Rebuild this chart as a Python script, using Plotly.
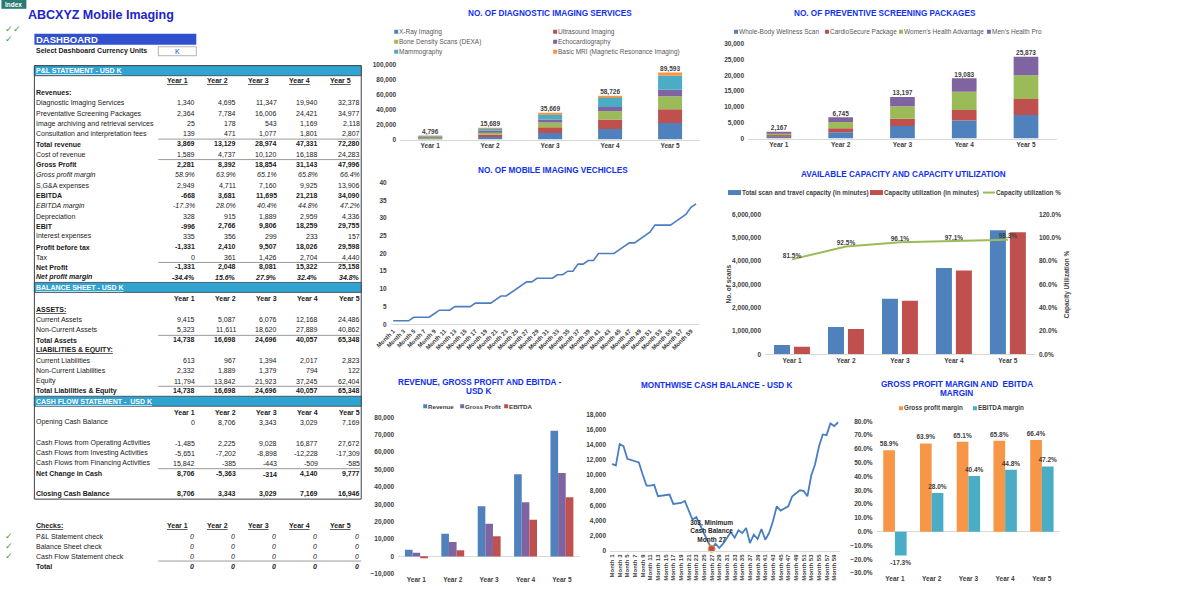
import plotly.graph_objects as go

# ======================= DATA =======================
years = ["Year 1", "Year 2", "Year 3", "Year 4", "Year 5"]

# P&L statement (USD K)
diag_imaging_rev = [1340, 4695, 11347, 19940, 32378]
prev_screening_rev = [2364, 7784, 16006, 24421, 34977]
archiving_rev = [25, 178, 543, 1169, 2118]
consultation_rev = [139, 471, 1077, 1801, 2807]
total_revenue = [3869, 13129, 28974, 47331, 72280]
cost_of_revenue = [1589, 4737, 10120, 16188, 24283]
gross_profit = [2281, 8392, 18854, 31143, 47996]
gross_margin_pct = [58.9, 63.9, 65.1, 65.8, 66.4]
sga_expenses = [2949, 4711, 7160, 9925, 13906]
ebitda = [-668, 3681, 11695, 21218, 34090]
ebitda_margin_pct = [-17.3, 28.0, 40.4, 44.8, 47.2]
depreciation = [328, 915, 1889, 2959, 4336]
ebit = [-996, 2766, 9806, 18259, 29755]
interest_expenses = [335, 356, 299, 233, 157]
profit_before_tax = [-1331, 2410, 9507, 18026, 29598]
tax = [0, 361, 1426, 2704, 4440]
net_profit = [-1331, 2048, 8081, 15322, 25158]
net_margin_pct = [-34.4, 15.6, 27.9, 32.4, 34.8]

# Balance sheet (USD K)
current_assets = [9415, 5087, 6076, 12168, 24486]
noncurrent_assets = [5323, 11611, 18620, 27889, 40862]
total_assets = [14738, 16698, 24696, 40057, 65348]
current_liabilities = [613, 967, 1394, 2017, 2823]
noncurrent_liabilities = [2332, 1889, 1379, 794, 122]
equity = [11794, 13842, 21923, 37245, 62404]
total_liab_equity = [14738, 16698, 24696, 40057, 65348]

# Cash flow statement (USD K)
opening_cash = [0, 8706, 3343, 3029, 7169]
cf_operating = [-1485, 2225, 9028, 16877, 27672]
cf_investing = [-5651, -7202, -8898, -12228, -17309]
cf_financing = [15842, -385, -443, -509, -585]
net_change_cash = [8706, -5363, -314, 4140, 9777]
closing_cash = [8706, 3343, 3029, 7169, 16946]

# Checks
pl_check = [0, 0, 0, 0, 0]
bs_check = [0, 0, 0, 0, 0]
cf_check = [0, 0, 0, 0, 0]
total_check = [0, 0, 0, 0, 0]

# No. of diagnostic imaging services
xray_imaging = [1200, 3600, 8900, 14200, 22200]
ultrasound_imaging = [1100, 3100, 7500, 12500, 18200]
bone_density_dexa = [1000, 3100, 6300, 11100, 17400]
echocardiography = [500, 2200, 4000, 5700, 8900]
mammography = [800, 3100, 7100, 13400, 18600]
basic_mri = [196, 589, 1869, 1826, 4293]

# No. of preventive screening packages
whole_body_scan = [650, 2000, 4000, 5700, 7500]
cardiosecure_pkg = [400, 1250, 2300, 3350, 5000]
womens_health = [650, 2000, 3900, 5800, 7500]
mens_health = [467, 1495, 2997, 4233, 5873]

# Capacity
capacity_minutes = [400000, 1170000, 2390000, 3700000, 5330000]
utilized_minutes = [326000, 1082000, 2297000, 3593000, 5239000]
utilization_pct = [81.5, 92.5, 96.1, 97.1, 98.3]

# Monthly series
months = ["Month %d" % i for i in range(1, 61)]
vehicles = [1, 1, 1, 1, 2, 2, 2, 2, 3, 4, 4, 4,
            5, 5, 5, 5, 6, 6, 6, 6, 7, 8, 8, 9,
            10, 11, 12, 12, 13, 13, 13, 13, 14, 14, 15, 15,
            17, 17, 18, 18, 20, 20, 20, 20, 21, 22, 23, 23,
            24, 25, 26, 28, 28, 28, 28, 29, 30, 31, 33, 34]
cash_balance = [11470, 11250, 14070, 13800, 12130, 11960, 11780, 11650, 10070, 8620, 8620, 8706,
                7210, 7300, 7340, 7430, 6200, 6290, 6330, 6590, 5450, 4130, 4480, 3343,
                2370, 1270, 303, 970, 400, 970, 1710, 2500, 1760, 2730, 2370, 3029,
                1050, 2150, 1580, 2900, 1490, 2370, 3910, 5890, 5320, 5580, 5890, 7169,
                7560, 8000, 7910, 7210, 9930, 11430, 13720, 15340, 15250, 16790, 16440, 16946]

# ======================= STYLE / LAYOUT =======================
W, H = 1200, 600
FONT = "Liberation Sans, Arial, sans-serif"
TICK = "#404040"
AXLINE = "#D9D9D9"
TITLE_BLUE = "#1030F0"
BLUE, RED, GREEN, PURPLE, AQUA, ORANGE = "#4F81BD", "#C0504D", "#9BBB59", "#8064A2", "#4BACC6", "#F79646"
LINE_BLUE = "#4A7EC2"

# screen-position calibration (target pixel -> page pixel)
OX, OY, SC = 13.6, 4.2, 0.988


def px(x):
    return ((x - OX) / SC) / W


def py(y):
    return 1 - ((y - OY) / SC) / H


ann = []
shapes = []


def txt(x, y, s, size=7, color="#1a1a1a", anchor="left", bold=False, italic=False, underline=False,
        angle=0, vanchor="middle"):
    if underline:
        s = "<u>%s</u>" % s
    if italic:
        s = "<i>%s</i>" % s
    if bold:
        s = "<b>%s</b>" % s
    ann.append(dict(x=px(x), y=py(y), xref="paper", yref="paper", text=s, showarrow=False,
                    xanchor=anchor, yanchor=vanchor, textangle=angle, borderpad=0, borderwidth=0,
                    font=dict(family=FONT, size=size, color=color)))


def rect(x0, y0, x1, y1, fill=None, line=None, lw=1):
    shapes.append(dict(type="rect", xref="paper", yref="paper", x0=px(x0), x1=px(x1), y0=py(y1), y1=py(y0),
                       fillcolor=fill if fill else "rgba(0,0,0,0)",
                       line=dict(color=line if line else "rgba(0,0,0,0)", width=lw if line else 0)))


def hline(x0, x1, y, color="#808080", w=0.8):
    shapes.append(dict(type="line", xref="paper", yref="paper", x0=px(x0), x1=px(x1), y0=py(y), y1=py(y),
                       line=dict(color=color, width=w)))


def fmt_num(v):
    return "{:,}".format(v)


def fmt_pct(v):
    return "%.1f%%" % v


# ---------- header area ----------
rect(0, 0, 25, 9, fill="#2A7B73")
txt(12.5, 4.5, "Index", size=6.5, color="white", anchor="center", bold=True)
txt(27, 15, "ABCXYZ Mobile Imaging", size=12.5, color="#2323C8", bold=True)
txt(4, 29, "✓✓", size=9, color="#3A9A3A")
txt(4, 39, "✓", size=9, color="#3A9A3A")
rect(33, 34, 195, 45, fill="#3050D0")
txt(35, 39.5, "DASHBOARD", size=9.5, color="white", bold=True)
txt(35, 51.5, "Select Dashboard Currency Units", size=7, bold=True)
rect(157, 47, 195, 56, fill="white", line="#A0A0A0", lw=0.8)
txt(176, 51.5, "K", size=7, color="#2040FF", anchor="center")

# ---------- financial table ----------
COL_R = [194, 235, 276, 317, 359]
COL_C = [176, 216, 257, 298, 339]
HDR_BLUE = "#2FA3D2"

rect(33, 66, 360, 500, line="#404040", lw=1)
rect(33, 66, 360, 76, fill=HDR_BLUE, line="#404040", lw=0.8)
txt(35, 71, "P&amp;L STATEMENT - USD K", size=7, color="white", bold=True, underline=True)
for i, yname in enumerate(years):
    txt(COL_C[i], 81, yname, size=7, anchor="center", bold=True, underline=True)


def table_row(label, vals, y, style="n", fmt=fmt_num):
    b = "b" in style
    it = "i" in style
    txt(35, y, label, size=7, bold=b, italic=it)
    if vals is not None:
        for i, v in enumerate(vals):
            txt(COL_R[i], y, fmt(v), size=7, anchor="right", bold=b, italic=it)


pl_rows = [
    ("Revenues:", None, 93, "b", fmt_num),
    ("Diagnostic Imaging Services", diag_imaging_rev, 103, "n", fmt_num),
    ("Preventative Screening Packages", prev_screening_rev, 114, "n", fmt_num),
    ("Image archiving and retrieval services", archiving_rev, 124, "n", fmt_num),
    ("Consultation and interpretation fees", consultation_rev, 134, "n", fmt_num),
    ("Total revenue", total_revenue, 144.5, "b", fmt_num),
    ("Cost of revenue", cost_of_revenue, 155, "n", fmt_num),
    ("Gross Profit", gross_profit, 165, "b", fmt_num),
    ("Gross profit margin", gross_margin_pct, 175, "i", fmt_pct),
    ("S,G&amp;A expenses", sga_expenses, 186, "n", fmt_num),
    ("EBITDA", ebitda, 196, "b", fmt_num),
    ("EBITDA margin", ebitda_margin_pct, 206, "i", fmt_pct),
    ("Depreciation", depreciation, 217, "n", fmt_num),
    ("EBIT", ebit, 227, "b", fmt_num),
    ("Interest expenses", interest_expenses, 237, "n", fmt_num),
    ("Profit before tax", profit_before_tax, 248, "b", fmt_num),
    ("Tax", tax, 258, "n", fmt_num),
    ("Net Profit", net_profit, 268, "b", fmt_num),
    ("Net profit margin", net_margin_pct, 278, "bi", fmt_pct),
]
for r in pl_rows:
    table_row(*r)
for yy in (139.5, 160, 263):
    hline(157, 359, yy)

# balance sheet
rect(33, 283, 360, 293, fill=HDR_BLUE, line="#404040", lw=0.8)
txt(35, 288, "BALANCE SHEET - USD K", size=7, color="white", bold=True, underline=True)
for i, yname in enumerate(years):
    txt(COL_R[i], 299, yname, size=7, anchor="right", bold=True)
txt(35, 310, "ASSETS:", size=7, bold=True, underline=True)
txt(35, 351, "LIABILITIES &amp; EQUITY:", size=7, bold=True, underline=True)
bs_rows = [
    ("Current Assets", current_assets, 320, "n", fmt_num),
    ("Non-Current Assets", noncurrent_assets, 330, "n", fmt_num),
    ("Total Assets", total_assets, 341, "b", fmt_num),
    ("Current Liabilities", current_liabilities, 361, "n", fmt_num),
    ("Non-Current Liabilities", noncurrent_liabilities, 371, "n", fmt_num),
    ("Equity", equity, 382, "n", fmt_num),
    ("Total Liabilities &amp; Equity", total_liab_equity, 392, "b", fmt_num),
]
for r in bs_rows:
    table_row(*r)
for yy in (336, 387):
    hline(157, 359, yy)

# cash flow
rect(33, 397, 360, 407, fill=HDR_BLUE, line="#404040", lw=0.8)
txt(35, 402, "CASH FLOW STATEMENT -  USD K", size=7, color="white", bold=True, underline=True)
for i, yname in enumerate(years):
    txt(COL_R[i], 413, yname, size=7, anchor="right", bold=True)
cf_rows = [
    ("Opening Cash Balance", opening_cash, 423, "n", fmt_num),
    ("Cash Flows from Operating Activities", cf_operating, 444, "n", fmt_num),
    ("Cash Flows from Investing Activities", cf_investing, 454, "n", fmt_num),
    ("Cash Flows from Financing Activities", cf_financing, 464, "n", fmt_num),
    ("Net Change in Cash", net_change_cash, 475, "b", fmt_num),
    ("Closing Cash Balance", closing_cash, 495, "b", fmt_num),
]
for r in cf_rows:
    table_row(*r)
hline(157, 359, 469.5)

# checks
txt(35, 526, "Checks:", size=7, bold=True, underline=True)
for i, yname in enumerate(years):
    txt(COL_C[i], 526, yname, size=7, anchor="center", bold=True, underline=True)
chk_rows = [
    ("P&amp;L Statement check", pl_check, 537, "n"),
    ("Balance Sheet check", bs_check, 547, "n"),
    ("Cash Flow Statement check", cf_check, 557, "n"),
    ("Total", total_check, 567, "b"),
]
for label, vals, yy, st in chk_rows:
    txt(35, yy, label, size=7, bold=(st == "b"))
    for i, v in enumerate(vals):
        txt(COL_R[i] - 1, yy, fmt_num(v), size=7, anchor="right", italic=True, bold=(st == "b"))
hline(157, 360, 562)
for yy in (537, 547, 557):
    txt(4, yy, "✓", size=9, color="#3A9A3A")


# ---------- legend helper ----------
def leg(x, y, label, color, kind="sq", bold=False, size=6.5):
    if kind == "sq":
        rect(x, y - 2, x + 4, y + 2, fill=color)
        tx = x + 5
    elif kind == "rect":
        rect(x, y - 2.5, x + 13, y + 2.5, fill=color)
        tx = x + 14
    else:
        shapes.append(dict(type="line", xref="paper", yref="paper", x0=px(x), x1=px(x + 12), y0=py(y), y1=py(y),
                           line=dict(color=color, width=2)))
        tx = x + 13
    txt(tx, y, label, size=size, color=TICK if bold else "#595959", bold=bold)


TF = dict(family=FONT, size=6.5, color=TICK, weight="bold")
LBL = dict(family=FONT, size=6.5, color=TICK, weight="bold")


def xax(dom, anchor, line=True, **kw):
    d = dict(domain=[px(dom[0]), px(dom[1])], anchor=anchor, showgrid=False, zeroline=False,
             showline=line, linecolor=AXLINE, linewidth=1, ticks="", fixedrange=True, tickfont=TF)
    d.update(kw)
    return d


def yax(dom, anchor, rng, dtick, zl=False, **kw):
    d = dict(domain=[py(dom[1]), py(dom[0])], anchor=anchor, range=rng, dtick=dtick, showgrid=False,
             zeroline=zl, zerolinecolor=AXLINE, zerolinewidth=1, showline=False, ticks="",
             tickformat=",", fixedrange=True, tickfont=TF, ticklabelstandoff=3)
    d.update(kw)
    return d


fig = go.Figure()

# ---------- Chart A: diagnostic imaging services (stacked) ----------
diag_series = [("X-Ray Imaging", xray_imaging, BLUE), ("Ultrasound Imaging", ultrasound_imaging, RED),
               ("Bone Density Scans (DEXA)", bone_density_dexa, GREEN), ("Echocardiography", echocardiography, PURPLE),
               ("Mammography", mammography, AQUA), ("Basic MRI (Magnetic Resonance Imaging)", basic_mri, ORANGE)]
cum = [0] * len(years)
for name, vals, col in diag_series:
    fig.add_trace(go.Bar(x=years, y=vals, base=list(cum), width=0.4, name=name, marker=dict(color=col, line=dict(width=0)),
                         xaxis="x", yaxis="y"))
    cum = [c + v for c, v in zip(cum, vals)]
fig.add_trace(go.Scatter(x=years, y=cum, mode="text", text=[fmt_num(v) for v in cum], textposition="top center",
                         textfont=LBL, xaxis="x", yaxis="y", cliponaxis=False))
txt(549, 14, "NO. OF DIAGNOSTIC IMAGING SERVICES", size=8.2, color=TITLE_BLUE, anchor="center", bold=True)
leg_pos_a = [(393, 32), (552, 32), (393, 42), (552, 42), (393, 52), (552, 52)]
for (name, vals, col), (lx, ly) in zip(diag_series, leg_pos_a):
    leg(lx, ly, name, col)

# ---------- Chart B: preventive screening packages (stacked) ----------
prev_series = [("Whole-Body Wellness Scan", whole_body_scan, BLUE), ("CardioSecure Package", cardiosecure_pkg, RED),
               ("Women's Health Advantage", womens_health, GREEN), ("Men's Health Pro", mens_health, PURPLE)]
cum = [0] * len(years)
for name, vals, col in prev_series:
    fig.add_trace(go.Bar(x=years, y=vals, base=list(cum), width=0.4, name=name, marker=dict(color=col, line=dict(width=0)),
                         xaxis="x2", yaxis="y2"))
    cum = [c + v for c, v in zip(cum, vals)]
fig.add_trace(go.Scatter(x=years, y=cum, mode="text", text=[fmt_num(v) for v in cum], textposition="top center",
                         textfont=LBL, xaxis="x2", yaxis="y2", cliponaxis=False))
txt(884, 14, "NO. OF PREVENTIVE SCREENING PACKAGES", size=8.2, color=TITLE_BLUE, anchor="center", bold=True)
for (name, vals, col), lx in zip(prev_series, [733, 824, 898, 986]):
    leg(lx, 32, name, col)

# ---------- Chart C: vehicles ----------
fig.add_trace(go.Scatter(x=months, y=vehicles, mode="lines", line=dict(color=LINE_BLUE, width=1.6),
                         xaxis="x3", yaxis="y3"))
txt(552, 171, "NO. OF MOBILE IMAGING VECHICLES", size=8.2, color=TITLE_BLUE, anchor="center", bold=True)

# ---------- Chart D: capacity ----------
fig.add_trace(go.Bar(x=years, y=capacity_minutes, width=0.296, offset=-0.333, name="Total scan and travel capacity (in minutes)",
                     marker=dict(color=BLUE, line=dict(width=0)), xaxis="x4", yaxis="y4"))
fig.add_trace(go.Bar(x=years, y=utilized_minutes, width=0.296, offset=0.037, name="Capacity utilization (in minutes)",
                     marker=dict(color=RED, line=dict(width=0)), xaxis="x4", yaxis="y4"))
fig.add_trace(go.Scatter(x=years, y=utilization_pct, mode="lines+text", name="Capacity utilization %",
                         text=[fmt_pct(v) for v in utilization_pct], textposition="top center", textfont=LBL,
                         line=dict(color=GREEN, width=2), xaxis="x4", yaxis="y8", cliponaxis=False))
txt(903, 175, "AVAILABLE CAPACITY AND CAPACITY UTILIZATION", size=8.2, color=TITLE_BLUE, anchor="center", bold=True)
leg(727, 193, "Total scan and travel capacity (in minutes)", BLUE, kind="rect", bold=True, size=6.3)
leg(869, 193, "Capacity utilization (in minutes)", RED, kind="rect", bold=True, size=6.3)
leg(982, 193, "Capacity utilization %", GREEN, kind="line", bold=True, size=6.3)
txt(727, 285, "No. of scans", size=6.5, color=TICK, anchor="center", bold=True, angle=-90)
txt(1067, 285, "Capacity Utilization %", size=6.5, color=TICK, anchor="center", bold=True, angle=-90)

# ---------- Chart E: revenue, GP, EBITDA ----------
rev_series = [("Revenue", total_revenue, BLUE, -0.315), ("Gross Profit", gross_profit, PURPLE, -0.105),
              ("EBITDA", ebitda, RED, 0.105)]
for name, vals, col, off in rev_series:
    fig.add_trace(go.Bar(x=years, y=vals, width=0.21, offset=off, name=name,
                         marker=dict(color=col, line=dict(width=0)), xaxis="x5", yaxis="y5"))
txt(478, 383, "REVENUE, GROSS PROFIT AND EBITDA -", size=8.2, color=TITLE_BLUE, anchor="center", bold=True)
txt(478, 392.5, "USD K", size=8.2, color=TITLE_BLUE, anchor="center", bold=True)
for (name, vals, col, off), lx in zip(rev_series, [422, 459, 503]):
    leg(lx, 407, name, col, bold=True, size=6.2)

# ---------- Chart F: monthly cash ----------
fig.add_trace(go.Scatter(x=months, y=cash_balance, mode="lines", line=dict(color=LINE_BLUE, width=1.8),
                         xaxis="x6", yaxis="y6"))
min_i = cash_balance.index(min(cash_balance))
fig.add_trace(go.Scatter(x=[months[min_i]], y=[cash_balance[min_i]], mode="markers+text",
                         marker=dict(size=7, color=RED, line=dict(color="#E9A23B", width=1)),
                         text=["%s, Minimum<br>Cash Balance<br>%s" % (fmt_num(cash_balance[min_i]), months[min_i])],
                         textposition="top center", textfont=dict(family=FONT, size=6.5, color="#262626", weight="bold"),
                         xaxis="x6", yaxis="y6", cliponaxis=False))
txt(716, 386, "MONTHWISE CASH BALANCE - USD K", size=8.2, color=TITLE_BLUE, anchor="center", bold=True)

# ---------- Chart G: margins ----------
margin_series = [("Gross profit margin", gross_margin_pct, ORANGE, -0.318), ("EBITDA margin", ebitda_margin_pct, AQUA, 0.0)]
for name, vals, col, off in margin_series:
    fig.add_trace(go.Bar(x=years, y=vals, width=0.318, offset=off, name=name, text=[fmt_pct(v) for v in vals],
                         textposition="outside", constraintext="none", textfont=LBL, cliponaxis=False,
                         marker=dict(color=col, line=dict(width=0)), xaxis="x7", yaxis="y7"))
txt(956, 385, "GROSS PROFIT MARGIN AND  EBITDA", size=8.2, color=TITLE_BLUE, anchor="center", bold=True)
txt(956, 394.5, "MARGIN", size=8.2, color=TITLE_BLUE, anchor="center", bold=True)
for (name, vals, col, off), lx in zip(margin_series, [898, 972]):
    leg(lx, 409, name, col, bold=True, size=6.3)

month_ticks = months[::2]

fig.update_layout(
    width=W, height=H, margin=dict(l=0, r=0, t=0, b=0), autosize=False,
    paper_bgcolor="white", plot_bgcolor="white", showlegend=False, barmode="overlay",
    font=dict(family=FONT, size=7, color=TICK),
    xaxis=xax((399, 699), "y"),
    yaxis=yax((65, 140), "x", [0, 100000], 20000),
    xaxis2=xax((747, 1056), "y2"),
    yaxis2=yax((44, 139), "x2", [0, 30000], 5000),
    xaxis3=xax((389.4, 697.6), "y3", range=[-0.5, 59.5], tickangle=-45, tickmode="array",
               tickvals=month_ticks, ticktext=month_ticks, tickfont=dict(family=FONT, size=6, color=TICK, weight="bold")),
    yaxis3=yax((183, 325), "x3", [0, 40], 5),
    xaxis4=xax((764, 1034), "y4"),
    yaxis4=yax((215, 355), "x4", [0, 6000000], 1000000),
    yaxis8=dict(overlaying="y4", side="right", anchor="x4", range=[0, 120], dtick=20, showgrid=False,
                zeroline=False, showline=False, ticks="", tickformat=".1f", ticksuffix="%", tickfont=TF,
                fixedrange=True, ticklabelstandoff=3),
    xaxis5=xax((397, 579), "y5", line=False),
    yaxis5=yax((418, 575), "x5", [-10000, 80000], 10000, zl=True),
    xaxis6=xax((609, 839), "y6", range=[-0.5, 59.5], tickangle=-90, tickmode="array",
               tickvals=month_ticks, ticktext=month_ticks, tickfont=dict(family=FONT, size=6, color=TICK, weight="bold")),
    yaxis6=yax((415, 552), "x6", [0, 18000], 2000),
    xaxis7=xax((875.6, 1059.4), "y7", line=False),
    yaxis7=yax((422, 574), "x7", [-30, 80], 10, zl=True, tickformat=".1f", ticksuffix="%"),
    annotations=ann,
    shapes=shapes,
)

fig.write_html("out.html", config={"displayModeBar": False},
               post_script="document.body.style.margin='0px';")
